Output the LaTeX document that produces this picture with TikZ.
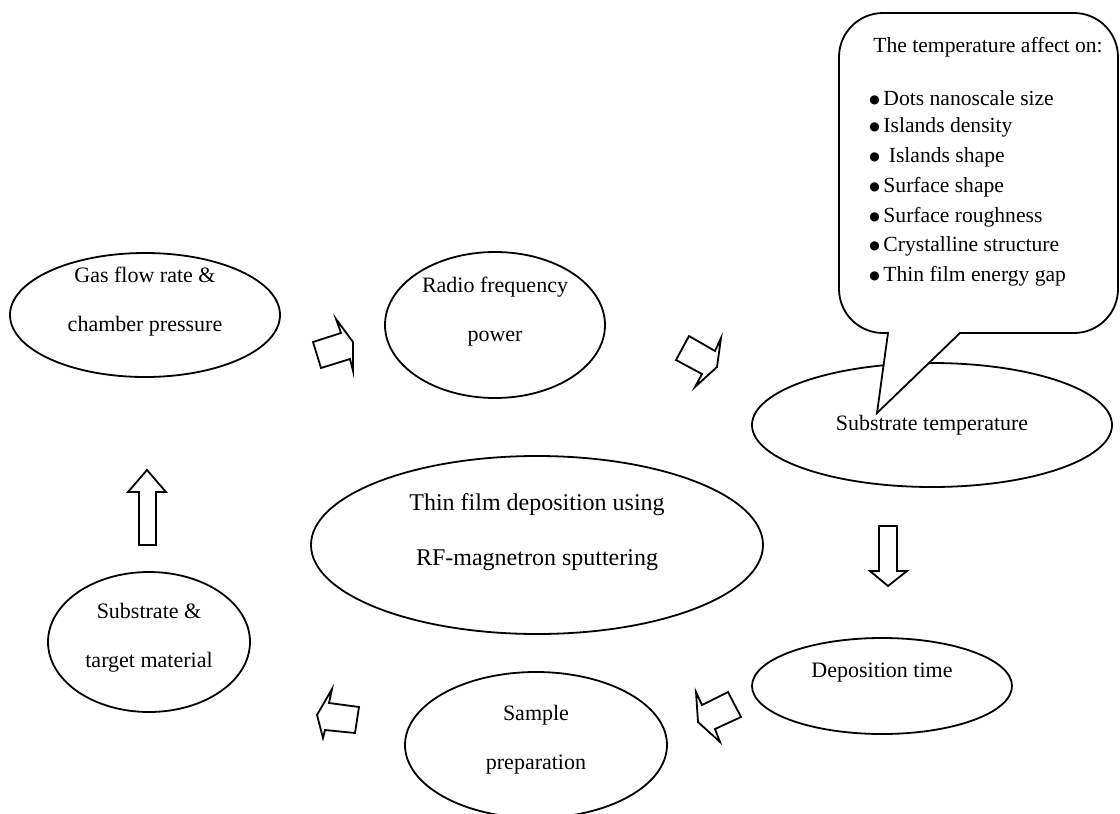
\documentclass[tikz,border=0pt]{standalone}
\usepackage{fontspec}
\setmainfont{Liberation Serif}
\newfontfamily\dotfont{DejaVu Sans}
\newcommand\dotmark{\raisebox{1pt}{\dotfont\fontsize{6}{7}\selectfont ●}}
\usetikzlibrary{shapes.geometric}

\tikzset{
  stage/.style={draw, ellipse, line width=0.9pt, inner sep=0pt},
  stagetext/.style={align=center, inner sep=0pt, font=\fontsize{11}{24.5}\selectfont},
  blockarrow/.style={draw, line width=0.9pt, line join=miter},
  callout/.style={draw, line width=0.9pt, fill=white},
  effect/.style={anchor=west, inner sep=0pt, font=\fontsize{10.8}{13}\selectfont},
}

\begin{document}
\begin{tikzpicture}[x=0.5pt, y=-0.5pt]
  \useasboundingbox (0,0) rectangle (1120,814);

  % process stages
  \node[stage, minimum width=135pt, minimum height=62pt] (gas) at (145,315) {};
  \node[stagetext] (gastext) at ([yshift=6.5pt]gas.center)
    {Gas flow rate \&\\chamber pressure};
  \node[stage, minimum width=110pt, minimum height=73pt] (rf) at (495,325) {};
  \node[stagetext] (rftext) at ([yshift=6.5pt]rf.center) {Radio frequency\\power};
  \node[stage, minimum width=180pt, minimum height=62pt] (subtemp) at (932,425) {};
  \node[stagetext] (subtemptext) at (subtemp.center) {Substrate temperature};
  \node[stage, minimum width=226pt, minimum height=89pt] (film) at (537,545) {};
  \node[stagetext, font=\fontsize{12}{27.5}\selectfont] (filmtext)
    at ([yshift=6.5pt]film.center) {Thin film deposition using\\RF-magnetron sputtering};
  \node[stage, minimum width=130pt, minimum height=48pt] (deptime) at (882,686) {};
  \node[stagetext] (deptimetext) at ([yshift=6.5pt]deptime.center) {Deposition time};
  \node[stage, minimum width=131pt, minimum height=73pt] (sample) at (536,745) {};
  \node[stagetext] (sampletext) at ([yshift=2.5pt]sample.center) {Sample\\preparation};
  \node[stage, minimum width=101pt, minimum height=70pt] (subtarget) at (149,642) {};
  \node[stagetext] (subtargettext) at ([yshift=2pt]subtarget.center)
    {Substrate \&\\target material};

  % block arrows between the stages
  \draw[blockarrow] (336,319) -- (341,333) -- (313,342) -- (321,368) -- (350,359)
    -- (353,371) -- (353,342) -- cycle;
  \draw[blockarrow] (689,336) -- (715,351) -- (721,338) -- (717,367) -- (695,387)
    -- (702,374) -- (676,360) -- cycle;
  \draw[blockarrow] (879,526) -- (897,526) -- (897,571) -- (907,571) -- (888,586)
    -- (870,571) -- (879,571) -- cycle;
  \draw[blockarrow] (696,692) -- (702,705) -- (728,692) -- (741,717) -- (715,729)
    -- (720,742) -- (698,722) -- cycle;
  \draw[blockarrow] (332,689) -- (329,703) -- (359,707) -- (355,733) -- (325,730)
    -- (323,738) -- (317,715) -- cycle;
  \draw[blockarrow] (139,545) -- (156,545) -- (156,492) -- (166,492) -- (147,470)
    -- (128,492) -- (139,492) -- cycle;

  % callout on the temperature
  \draw[callout] (877,413) -- (960,333) [rounded corners=22pt] -- (1118,333)
    -- (1118,13) -- (839,13) -- (839,333) [sharp corners] -- (888,333) -- cycle;
  \node[effect] (title) at (873,47) {The temperature affect on:};
  \foreach \effect [count=\i] in {Dots nanoscale size, Islands density,
      \ Islands shape, Surface shape, Surface roughness, Crystalline structure,
      Thin film energy gap} {
    \node[effect] (fx\i) at (869, {98+29.7*(\i-1)}) {\dotmark\,\effect};
  }
\end{tikzpicture}
\end{document}
